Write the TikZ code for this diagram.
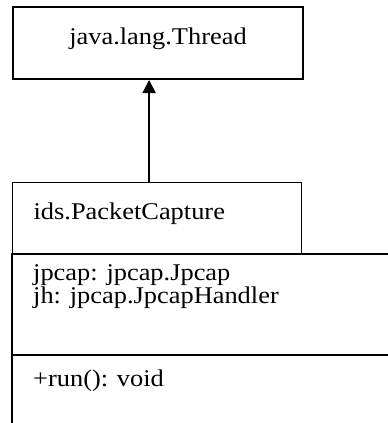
\documentclass[tikz,border=0pt]{standalone}
\usepackage{fontspec}
\setmainfont{Liberation Serif}[FakeStretch=1.1]
\usetikzlibrary{positioning, arrows.meta}
\tikzset{
x=1pt, y=-1pt, % one unit per pixel, y grows downward
every node/.style={font=\fontsize{24}{22}\selectfont, inner sep=0pt},
classbox/.style={draw, line width=2pt, minimum width=290pt, text height=37pt, text depth=35pt}, % the superclass box
namebox/.style={draw, line width=1.2pt, text width=247pt, inner xsep=21pt, text height=37pt, text depth=34pt}, % the class name box
compartment/.style={line width=2pt}, % the open member compartments
member/.style={anchor=base west}, % one member line
inherits/.style={line width=2pt, -{Triangle[width=13pt, length=13pt]}},
}
\begin{document}
\begin{tikzpicture}
            \useasboundingbox (0,0) rectangle (388,423);
            \clip (0,0) rectangle (388,423);
            \node[classbox, anchor=north west] (thread) at (12,6) {java.lang.Thread};
            \node[namebox, below=102pt of thread.south west, anchor=north west] (capture) {ids.PacketCapture};
            \coordinate (split) at (capture.south west |- 0,355);
            \draw[compartment] (capture.south west -| 388,0) -- (capture.south west) -- (capture.south west |- 0,423);
            \draw[compartment] (split) -- (split -| 388,0);
            \node[member] (jpcap) at (33,280.5) {jpcap: jpcap.Jpcap};
            \node[member] (jh) at (33,303) {jh: jpcap.JpcapHandler};
            \node[member] (run) at (33,386) {+run(): void};
            \draw[inherits] ([xshift=-8pt]capture.north) -- ([xshift=-8pt]capture.north |- thread.south);
\end{tikzpicture}
\end{document}
